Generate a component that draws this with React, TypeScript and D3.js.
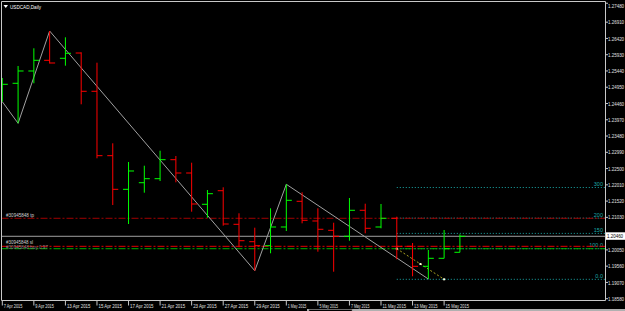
import React from 'react';
import * as d3 from 'd3';

const W = 625;
const H = 311;

const dates = [
  '7 Apr 2015', '8 Apr 2015', '9 Apr 2015', '10 Apr 2015', '13 Apr 2015', '14 Apr 2015',
  '15 Apr 2015', '16 Apr 2015', '17 Apr 2015', '20 Apr 2015', '21 Apr 2015', '22 Apr 2015',
  '23 Apr 2015', '24 Apr 2015', '27 Apr 2015', '28 Apr 2015', '29 Apr 2015', '30 Apr 2015',
  '1 May 2015', '4 May 2015', '5 May 2015', '6 May 2015', '7 May 2015', '8 May 2015',
  '11 May 2015', '12 May 2015', '13 May 2015', '14 May 2015', '15 May 2015', '18 May 2015',
];
const opens = [1.24716, 1.25069, 1.25439, 1.25761, 1.25822, 1.25981, 1.24828, 1.22888, 1.21875, 1.22074,
  1.22195, 1.22767, 1.22366, 1.21424, 1.21833, 1.20821, 1.20297, 1.20177, 1.2074, 1.21514,
  1.20921, 1.2064, 1.2046, 1.21243, 1.2074, 1.21002, 1.20158, 1.19556, 1.19797, 1.19978];
const highs = [1.25228, 1.2559, 1.26123, 1.26644, 1.26454, 1.26002, 1.25689, 1.23261, 1.22698, 1.22586,
  1.23038, 1.22879, 1.22677, 1.21854, 1.21936, 1.21153, 1.20719, 1.21303, 1.22026, 1.21785,
  1.21303, 1.20869, 1.21613, 1.21442, 1.21433, 1.2105, 1.20258, 1.20047, 1.20649, 1.2052];
const lows = [1.24514, 1.23864, 1.25069, 1.25665, 1.25599, 1.24436, 1.22809, 1.21402, 1.2083, 1.21773,
  1.22125, 1.22086, 1.21201, 1.2102, 1.20779, 1.20128, 1.19423, 1.19948, 1.20619, 1.20851,
  1.19996, 1.19393, 1.20327, 1.2055, 1.20701, 1.19767, 1.19255, 1.19173, 1.19797, 1.19978];
const closes = [1.25038, 1.25439, 1.25761, 1.2568, 1.25972, 1.24828, 1.22888, 1.21875, 1.22427, 1.22195,
  1.22767, 1.22366, 1.21433, 1.21743, 1.2083, 1.20327, 1.20177, 1.2074, 1.21544, 1.20942,
  1.20671, 1.2046, 1.21243, 1.20701, 1.21002, 1.20158, 1.19556, 1.19797, 1.20086, 1.2046];

const priceTicks = [1.2748, 1.2691, 1.2642, 1.2593, 1.2544, 1.2495, 1.2446, 1.2397, 1.2348, 1.2299,
  1.225, 1.2201, 1.2152, 1.2103, 1.2005, 1.1956, 1.1907, 1.1858];
const dateLabelIndex = [0, 2, 4, 6, 8, 10, 12, 14, 16, 18, 20, 22, 24, 26, 28];

const zigzagIndex = [0, 1, 3, 16, 18, 27];
const zigzagPrice = [1.24514, 1.23864, 1.26644, 1.19423, 1.22026, 1.19173];

const fibStartIndex = 25;
const fibEndIndex = 28;
const fibStartPrice = 1.20086;
const fibEndPrice = 1.19164;
const fibLevels = [0, 100, 150, 200, 300];
const fibLabels = ['0.0', '100.0', '150', '200', '300'];

const tpPrice = 1.21002;
const slPrice = 1.20158;
const openPrice = 1.20086;
const orderLabels = ['#30945848 tp', '#30945848 sl', '#30945848 buy 0.97'];
const symbolTitle = 'USDCAD,Daily';

const FONT = "'Liberation Sans', Arial, sans-serif";

export default function App() {
  const plotL = 1.5, plotT = 1.5, plotR = 605.5, plotB = 300.5;
  const x = d3.scaleLinear().domain([0, 29]).range([2.3, 459.9]);
  const y = d3.scaleLinear().domain([1.1858, 1.2299]).range([298.7, 152.3]);
  const last = closes[closes.length - 1];

  const zz = d3.line<number>()
    .x((_, i) => x(zigzagIndex[i]))
    .y((p) => y(p))(zigzagPrice) || '';

  const fibPrice = (lvl: number) => fibEndPrice + (fibStartPrice - fibEndPrice) * lvl / 100;
  const fibX0 = x(fibStartIndex);
  const fibX1 = x(fibEndIndex);
  const midIdx = (fibStartIndex + fibEndIndex) / 2;
  const anchors = [
    [fibX0, y(fibStartPrice)],
    [x(midIdx), y((fibStartPrice + fibEndPrice) / 2)],
    [fibX1, y(fibEndPrice)],
  ];

  const dateLen = (s: string) => 18.5 + (s.length - 10) * 5;

  return (
    <svg width={W} height={H} style={{ position: 'fixed', left: 0, top: 0, background: '#000' }}
      fontFamily={FONT}>
      <rect x={0} y={0} width={W} height={H} fill="#000" />
      <defs>
        <clipPath id="plot">
          <rect x={plotL} y={plotT} width={plotR - plotL} height={plotB - plotT} />
        </clipPath>
      </defs>

      <g clipPath="url(#plot)">
        {fibLevels.map((lvl, i) => (
          <g key={'f' + i}>
            <line x1={fibX0} x2={plotR} y1={y(fibPrice(lvl))} y2={y(fibPrice(lvl))}
              stroke="#1aa8a8" strokeWidth={1} strokeDasharray="1,2" />
            <text x={603} y={y(fibPrice(lvl)) - 1.5} fontSize={5.5} fill="#1aa8a8" textAnchor="end">
              {fibLabels[i]}
            </text>
          </g>
        ))}

        <line x1={plotL} x2={plotR} y1={y(last)} y2={y(last)} stroke="#a0a0a0" strokeWidth={1} />

        <line x1={plotL} x2={plotR} y1={y(tpPrice)} y2={y(tpPrice)} stroke="#a00000"
          strokeWidth={1} strokeDasharray="7,2,2,2" />
        <line x1={plotL} x2={plotR} y1={y(slPrice)} y2={y(slPrice)} stroke="#e00000"
          strokeWidth={1} strokeDasharray="7,2,2,2" />
        <line x1={plotL} x2={plotR} y1={y(openPrice)} y2={y(openPrice)} stroke="#00b000"
          strokeWidth={1} strokeDasharray="7,2,2,2" />
        <text x={6} y={y(tpPrice) - 1.5} fontSize={5} fill="#d0d0d0" textLength={28} lengthAdjust="spacingAndGlyphs">{orderLabels[0]}</text>
        <text x={6} y={y(slPrice) - 2.5} fontSize={5} fill="#d0d0d0" textLength={27} lengthAdjust="spacingAndGlyphs">{orderLabels[1]}</text>
        <text x={6} y={y(openPrice) + 0.5} fontSize={5} fill="#8a8a8a" textLength={42} lengthAdjust="spacingAndGlyphs">{orderLabels[2]}</text>

        <path d={zz} fill="none" stroke="#a0a0a0" strokeWidth={1} />

        <line x1={fibX0} y1={y(fibStartPrice)} x2={fibX1} y2={y(fibEndPrice)}
          stroke="#a8a020" strokeWidth={1} strokeDasharray="2,2" />
        {anchors.map((a, i) => (
          <rect key={'a' + i} x={a[0] - 1} y={a[1] - 1} width={2} height={2} fill="#ffffe0" />
        ))}

        {dates.map((d, i) => {
          const col = closes[i] >= opens[i] ? '#00ff00' : '#ff0000';
          const cx = x(i);
          return (
            <g key={d} stroke={col} strokeWidth={1}>
              <line x1={cx} x2={cx} y1={y(highs[i])} y2={y(lows[i])} />
              <line x1={cx - 5.5} x2={cx} y1={y(opens[i])} y2={y(opens[i])} />
              <line x1={cx} x2={cx + 5.5} y1={y(closes[i])} y2={y(closes[i])} />
            </g>
          );
        })}
      </g>

      <path d={`M${plotL},${plotB}V${plotT}H${plotR}V${plotB}H${plotL}`} fill="none" stroke="#c8c8c8" strokeWidth={1} />

      <path d="M3.5,5 L8,5 L5.75,8 Z" fill="#ffffff" />
      <text x={10} y={9} fontSize={6} fill="#ffffff" textLength={31} lengthAdjust="spacingAndGlyphs">{symbolTitle}</text>

      {priceTicks.map((p, i) => {
        const ty = y(p);
        return (
          <g key={'p' + i}>
            <line x1={plotR} x2={plotR + 2.5} y1={Math.max(ty, 3)} y2={Math.max(ty, 3)} stroke="#c8c8c8" />
            <text transform={`translate(608,${Math.max(ty, 6) + 2.1}) scale(0.72,1)`} fontSize={6.2}
              fill="#e0e0e0">{p.toFixed(5)}</text>
          </g>
        );
      })}
      <rect x={606} y={232.3} width={19} height={7.5} fill="#ffffff" />
      <text transform={`translate(607,${y(last) + 2.1}) scale(0.72,1)`} fontSize={6.2} fill="#000">{last.toFixed(5)}</text>

      {dateLabelIndex.map((idx) => (
        <g key={'d' + idx}>
          <line x1={x(idx)} x2={x(idx)} y1={plotB} y2={plotB + 5} stroke="#c8c8c8" />
          <text x={x(idx) + 1.5} y={307.5} fontSize={5.5} fill="#e0e0e0"
            textLength={dateLen(dates[idx])} lengthAdjust="spacingAndGlyphs">{dates[idx]}</text>
        </g>
      ))}

      <rect x={307} y={309} width={318} height={2} fill="#b0b0b0" />
      <rect x={309} y={309.5} width={43} height={2} fill="#000" stroke="#808080" strokeWidth={0.5} />
    </svg>
  );
}
